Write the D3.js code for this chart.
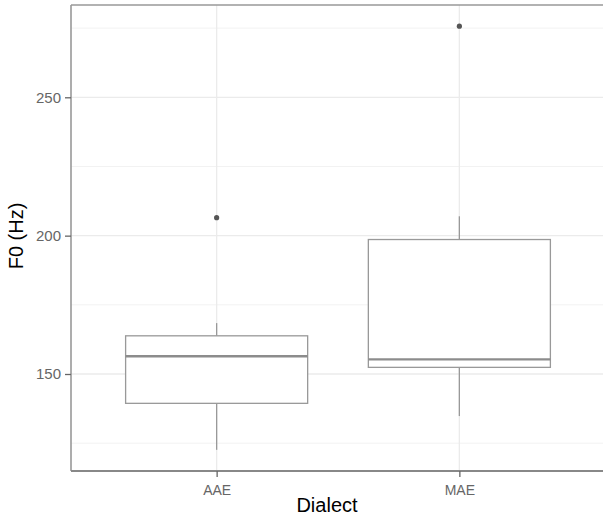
<!DOCTYPE html>
<html>
<head>
<meta charset="utf-8">
<script src="https://cdn.jsdelivr.net/npm/d3@7"></script>
<style>
  body { margin: 0; background: #fff; }
  text { font-family: "Liberation Sans", Arial, sans-serif; }
</style>
</head>
<body>
<div id="chart"></div>
<script>
// box stats
const dialects = ["AAE", "MAE"];
const whiskerLow = [122.6, 134.8];
const q1 = [139.4, 152.4];
const medians = [156.4, 155.3];
const q3 = [163.8, 198.6];
const whiskerHigh = [168.4, 207];
const outliers = [[206.5], [275.7]];
const yTicks = [150, 200, 250];
const yMinor = [125, 175, 225, 275];

const width = 603, height = 517;
const margin = { top: 5, right: -2, bottom: 46, left: 71 };
const innerW = width - margin.left - margin.right;
const innerH = height - margin.top - margin.bottom;

const svg = d3.select("#chart").append("svg")
    .attr("width", width)
    .attr("height", height);

const g = svg.append("g")
    .attr("transform", `translate(${margin.left},${margin.top})`);

const boxes = dialects.map((d, i) => ({
    key: d,
    lo: whiskerLow[i], q1: q1[i], med: medians[i], q3: q3[i], hi: whiskerHigh[i],
    out: outliers[i]
}));

// ggplot-style expansion: 5% continuous, 0.6 discrete
const allVals = boxes.flatMap(b => [b.lo, b.hi, ...b.out]);
const [vmin, vmax] = d3.extent(allVals);
const pad = (vmax - vmin) * 0.05;
const y = d3.scaleLinear().domain([vmin - pad, vmax + pad]).range([innerH, 0]);
const x = d3.scaleLinear().domain([0.4, dialects.length + 0.6]).range([0, innerW]);
const xPos = i => x(i + 1);
const boxW = x(0.75) - x(0);

// grid
g.selectAll(".minor").data(yMinor).join("line")
    .attr("x1", 0).attr("x2", innerW)
    .attr("y1", d => y(d)).attr("y2", d => y(d))
    .attr("stroke", "#f2f2f2").attr("stroke-width", 1);
g.selectAll(".major").data(yTicks).join("line")
    .attr("x1", 0).attr("x2", innerW)
    .attr("y1", d => y(d)).attr("y2", d => y(d))
    .attr("stroke", "#ebebeb").attr("stroke-width", 1.3);
g.selectAll(".vgrid").data(dialects).join("line")
    .attr("x1", (d, i) => xPos(i)).attr("x2", (d, i) => xPos(i))
    .attr("y1", 0).attr("y2", innerH)
    .attr("stroke", "#ebebeb").attr("stroke-width", 1.3);

// boxes
const bg = g.selectAll(".box").data(boxes).join("g")
    .attr("transform", (d, i) => `translate(${xPos(i)},0)`);

bg.append("line")
    .attr("y1", d => y(d.hi)).attr("y2", d => y(d.q3))
    .attr("stroke", "#999").attr("stroke-width", 1.3);
bg.append("line")
    .attr("y1", d => y(d.q1)).attr("y2", d => y(d.lo))
    .attr("stroke", "#999").attr("stroke-width", 1.3);
bg.append("rect")
    .attr("x", -boxW / 2).attr("width", boxW)
    .attr("y", d => y(d.q3)).attr("height", d => y(d.q1) - y(d.q3))
    .attr("fill", "#fff").attr("stroke", "#999").attr("stroke-width", 1.3);
bg.append("line")
    .attr("x1", -boxW / 2).attr("x2", boxW / 2)
    .attr("y1", d => y(d.med)).attr("y2", d => y(d.med))
    .attr("stroke", "#8c8c8c").attr("stroke-width", 2.4);
bg.selectAll("circle").data(d => d.out).join("circle")
    .attr("cy", d => y(d)).attr("r", 2.6)
    .attr("fill", "#555");

// panel border
g.append("line").attr("x1", 0).attr("x2", innerW).attr("y1", 0).attr("y2", 0)
    .attr("stroke", "#999").attr("stroke-width", 1.3);
g.append("line").attr("x1", 0).attr("x2", 0).attr("y1", 0).attr("y2", innerH)
    .attr("stroke", "#999").attr("stroke-width", 1.6);
g.append("line").attr("x1", 0).attr("x2", innerW).attr("y1", innerH).attr("y2", innerH)
    .attr("stroke", "#888").attr("stroke-width", 2);

// axes
const yAxis = g.append("g")
    .call(d3.axisLeft(y).tickValues(yTicks).tickSize(6).tickPadding(4));
yAxis.select(".domain").remove();
yAxis.selectAll("line").attr("stroke", "#666").attr("stroke-width", 1.3);
yAxis.selectAll("text").attr("fill", "#666").attr("font-size", 15);

const xAxis = g.append("g")
    .attr("transform", `translate(0,${innerH})`)
    .call(d3.axisBottom(x).tickValues(dialects.map((d, i) => i + 1))
        .tickFormat((d, i) => dialects[i]).tickSize(6).tickPadding(8));
xAxis.select(".domain").remove();
xAxis.selectAll("line").attr("stroke", "#666").attr("stroke-width", 1.3);
xAxis.selectAll("text").attr("fill", "#666").attr("font-size", 14);

// titles
svg.append("text")
    .attr("x", 327).attr("y", 512)
    .attr("text-anchor", "middle").attr("font-size", 20).attr("fill", "#000")
    .text("Dialect");
svg.append("text")
    .attr("transform", `translate(23,236) rotate(-90)`)
    .attr("text-anchor", "middle").attr("font-size", 20).attr("fill", "#000")
    .text("F0 (Hz)");
</script>
</body>
</html>
